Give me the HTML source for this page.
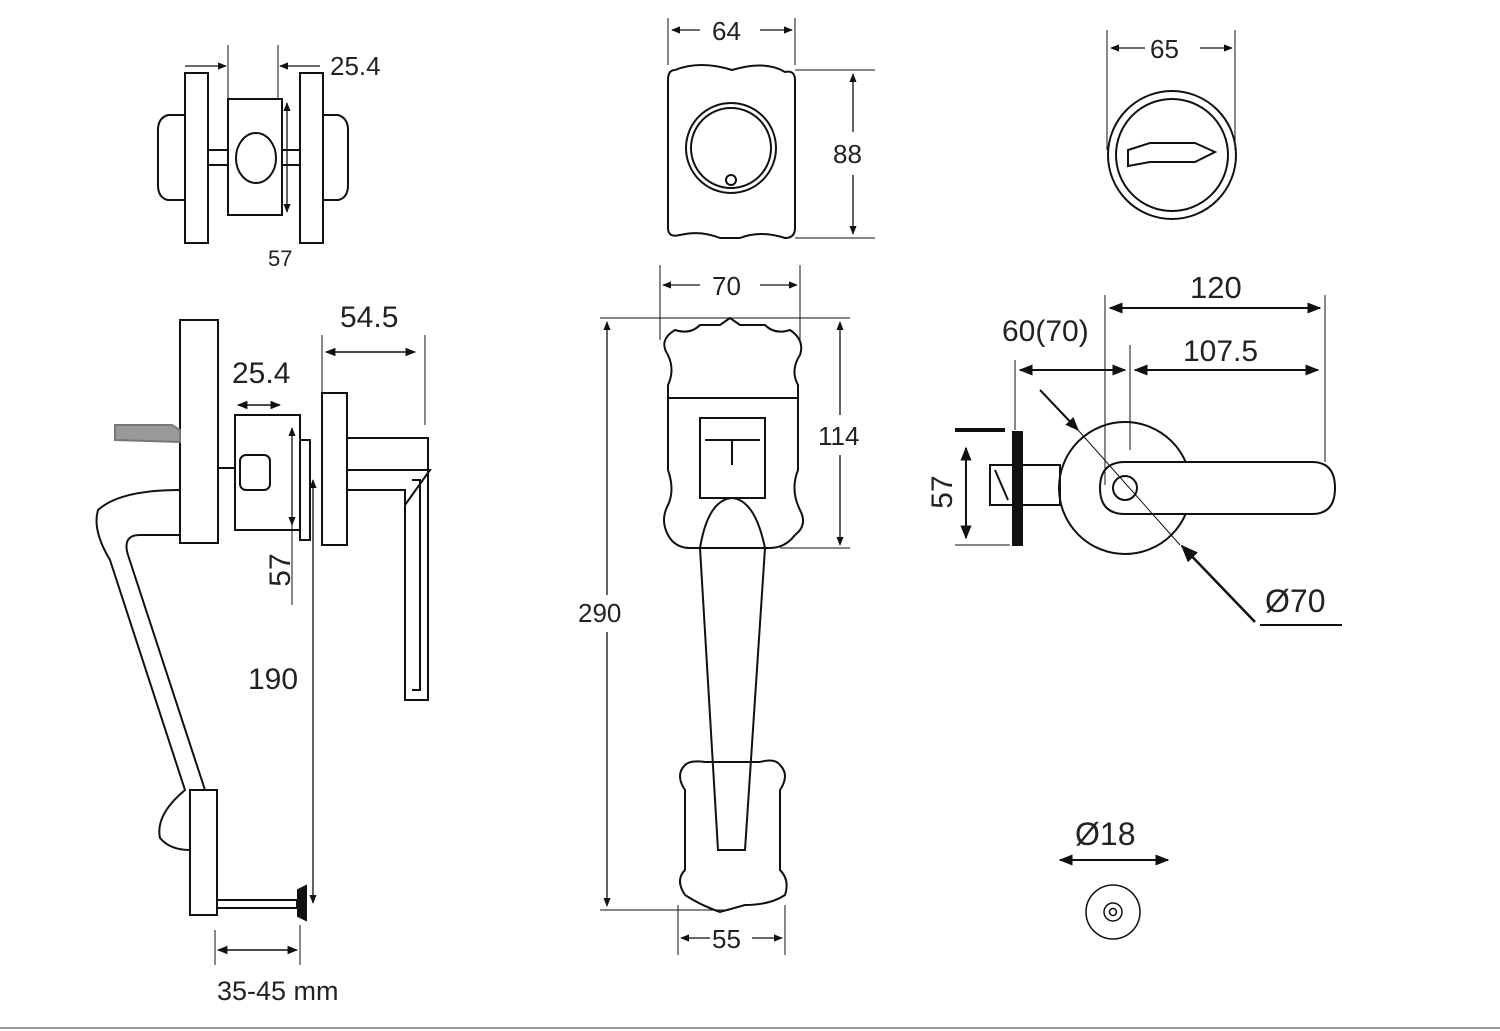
<!DOCTYPE html>
<html><head><meta charset="utf-8"><style>
html,body{margin:0;padding:0;background:#fff;}
svg{display:block;}
text{font-family:"Liberation Sans",sans-serif;fill:#222;}
</style></head><body>
<svg width="1500" height="1031" viewBox="0 0 1500 1031" xmlns="http://www.w3.org/2000/svg">
<defs>
<marker id="a" viewBox="0 0 10 10" refX="9" refY="5" markerWidth="7" markerHeight="7" orient="auto-start-reverse"><path d="M0,1 L10,5 L0,9 z" fill="#111"/></marker>
</defs>
<rect width="1500" height="1031" fill="#fff"/>
<g fill="none" stroke="#111" stroke-width="2">
<path d="M185,115 L168,115 Q158,118 158,130 L158,185 Q158,198 168,200 L185,200"/>
<rect x="185" y="73" width="23" height="170"/>
<rect x="228" y="99" width="54" height="116"/>
<ellipse cx="256" cy="158" rx="20" ry="25"/>
<line x1="208" y1="150" x2="228" y2="150"/><line x1="208" y1="165" x2="228" y2="165"/>
<line x1="282" y1="150" x2="300" y2="150"/><line x1="282" y1="165" x2="300" y2="165"/>
<rect x="300" y="73" width="23" height="170"/>
<path d="M323,115 L338,115 Q348,118 348,130 L348,185 Q348,198 338,200 L323,200"/>
<line x1="228" y1="45" x2="228" y2="99" stroke-width="1"/>
<line x1="278" y1="45" x2="278" y2="99" stroke-width="1"/>
<line x1="185" y1="66" x2="226" y2="66" stroke-width="1.3" marker-end="url(#a)"/>
<line x1="320" y1="66" x2="280" y2="66" stroke-width="1.3" marker-end="url(#a)"/>
<line x1="287" y1="103" x2="287" y2="212" stroke-width="1.3" marker-start="url(#a)" marker-end="url(#a)"/>
<rect x="180" y="320" width="38" height="223"/>
<path d="M115,425 L172,425 L180,430 L180,442 L115,440 z" fill="#999" stroke="#777"/>
<rect x="235" y="415" width="65" height="115"/>
<rect x="240" y="455" width="30" height="35" rx="6"/>
<line x1="218" y1="468" x2="235" y2="468"/>
<rect x="300" y="440" width="10" height="100"/>
<rect x="322" y="393" width="25" height="152"/>
<path d="M347,438 L428,438 L428,700 L405,700 L405,490 L347,490"/>
<path d="M347,470 L430,470 L405,505"/>
<path d="M412,480 L420,480 L420,690 L412,690"/>
<path d="M180,490 Q120,490 98,510 Q92,530 110,560 L185,790 Q155,815 160,838 Q170,850 190,850"/>
<path d="M180,535 L140,535 Q122,535 128,555 L205,790"/>
<rect x="190" y="790" width="27" height="125"/>
<rect x="217" y="900" width="80" height="8"/>
<path d="M298,890 L306,886 L306,920 L298,916 z" fill="#111"/>
<line x1="322" y1="335" x2="322" y2="392" stroke-width="1"/>
<line x1="425" y1="335" x2="425" y2="425" stroke-width="1"/>
<line x1="326" y1="352" x2="415" y2="352" stroke-width="1.5" marker-start="url(#a)" marker-end="url(#a)"/>
<line x1="238" y1="405" x2="280" y2="405" stroke-width="1.5" marker-start="url(#a)" marker-end="url(#a)"/>
<line x1="292" y1="428" x2="292" y2="525" stroke-width="1.3" marker-start="url(#a)" marker-end="url(#a)"/>
<line x1="292" y1="525" x2="292" y2="605" stroke-width="1"/>
<line x1="313" y1="480" x2="313" y2="903" stroke-width="1.3" marker-start="url(#a)" marker-end="url(#a)"/>
<line x1="215" y1="930" x2="215" y2="965" stroke-width="1"/>
<line x1="300" y1="925" x2="300" y2="965" stroke-width="1"/>
<line x1="218" y1="950" x2="297" y2="950" stroke-width="1.5" marker-start="url(#a)" marker-end="url(#a)"/>
<path d="M675,70 Q668,70 668,80 L668,228 Q668,238 680,235 Q700,230 720,238 L740,238 Q760,230 785,238 Q795,238 795,228 L795,80 Q795,70 785,72 Q765,60 732,70 Q700,60 675,70 z"/>
<circle cx="731" cy="148" r="45"/><circle cx="731" cy="148" r="40"/>
<circle cx="731" cy="180" r="5"/>
<line x1="668" y1="18" x2="668" y2="65" stroke-width="1"/>
<line x1="795" y1="18" x2="795" y2="65" stroke-width="1"/>
<line x1="672" y1="30" x2="700" y2="30" stroke-width="1.3" marker-start="url(#a)"/>
<line x1="760" y1="30" x2="792" y2="30" stroke-width="1.3" marker-end="url(#a)"/>
<line x1="795" y1="70" x2="875" y2="70" stroke-width="1"/>
<line x1="795" y1="238" x2="875" y2="238" stroke-width="1"/>
<line x1="853" y1="74" x2="853" y2="132" stroke-width="1.3" marker-start="url(#a)"/>
<line x1="853" y1="175" x2="853" y2="234" stroke-width="1.3" marker-end="url(#a)"/>
<path d="M675,330 Q690,335 700,325 L720,325 L730,318 L740,325 L765,325 Q775,335 790,330 Q805,340 800,355 Q790,370 798,385 L798,470 Q790,490 800,510 Q808,525 795,535 Q785,548 770,548 L690,548 Q675,548 668,535 Q660,520 668,505 Q675,490 668,470 L668,385 Q675,370 668,355 Q658,340 675,330 z"/>
<line x1="668" y1="398" x2="798" y2="398"/>
<rect x="700" y="418" width="65" height="80"/>
<line x1="705" y1="440" x2="760" y2="440"/><line x1="732" y1="440" x2="732" y2="465"/>
<path d="M700,548 L718,850 L745,850 L765,548 Q755,500 732,498 Q708,500 700,548 z"/>
<path d="M685,765 Q690,760 705,762 L760,762 Q775,758 780,765 Q790,775 780,790 L780,870 Q790,880 785,895 Q770,905 745,905 L720,912 Q700,905 685,895 Q675,880 685,870 L685,790 Q675,775 685,765 z"/>
<line x1="660" y1="265" x2="660" y2="340" stroke-width="1"/>
<line x1="800" y1="265" x2="800" y2="340" stroke-width="1"/>
<line x1="663" y1="285" x2="700" y2="285" stroke-width="1.3" marker-start="url(#a)"/>
<line x1="760" y1="285" x2="797" y2="285" stroke-width="1.3" marker-end="url(#a)"/>
<line x1="600" y1="318" x2="850" y2="318" stroke-width="1"/>
<line x1="600" y1="910" x2="730" y2="910" stroke-width="1"/>
<line x1="607" y1="322" x2="607" y2="595" stroke-width="1.3" marker-start="url(#a)"/>
<line x1="607" y1="632" x2="607" y2="906" stroke-width="1.3" marker-end="url(#a)"/>
<line x1="780" y1="548" x2="850" y2="548" stroke-width="1"/>
<line x1="840" y1="322" x2="840" y2="415" stroke-width="1.3" marker-start="url(#a)"/>
<line x1="840" y1="455" x2="840" y2="545" stroke-width="1.3" marker-end="url(#a)"/>
<line x1="678" y1="905" x2="678" y2="955" stroke-width="1"/>
<line x1="785" y1="905" x2="785" y2="955" stroke-width="1"/>
<line x1="681" y1="938" x2="710" y2="938" stroke-width="1.3" marker-start="url(#a)"/>
<line x1="752" y1="938" x2="782" y2="938" stroke-width="1.3" marker-end="url(#a)"/>
<circle cx="1172" cy="155" r="64"/><circle cx="1172" cy="155" r="56"/>
<path d="M1128,150 L1150,143 L1195,143 L1215,152 L1195,162 L1150,162 L1128,166 z"/>
<line x1="1107" y1="30" x2="1107" y2="150" stroke-width="1"/>
<line x1="1235" y1="30" x2="1235" y2="150" stroke-width="1"/>
<line x1="1111" y1="48" x2="1145" y2="48" stroke-width="1.3" marker-start="url(#a)"/>
<line x1="1200" y1="48" x2="1232" y2="48" stroke-width="1.3" marker-end="url(#a)"/>
<circle cx="1125" cy="488" r="66"/>
<path d="M1125,462 L1312,462 Q1335,462 1335,488 Q1335,514 1312,514 L1125,514 Q1100,514 1100,488 Q1100,462 1125,462 z" fill="#fff"/>
<circle cx="1125" cy="488" r="12"/>
<rect x="1013" y="432" width="9" height="113" fill="#111"/>
<rect x="1022" y="465" width="38" height="40"/>
<rect x="990" y="465" width="23" height="40"/>
<line x1="995" y1="470" x2="1008" y2="500"/>
<line x1="955" y1="430" x2="1005" y2="430" stroke-width="4"/>
<line x1="955" y1="545" x2="1010" y2="545" stroke-width="1"/>
<line x1="966" y1="448" x2="966" y2="538" stroke-width="2" marker-start="url(#a)" marker-end="url(#a)"/>
<line x1="1105" y1="295" x2="1105" y2="485" stroke-width="1"/>
<line x1="1325" y1="295" x2="1325" y2="462" stroke-width="1"/>
<line x1="1130" y1="345" x2="1130" y2="450" stroke-width="1"/>
<line x1="1015" y1="360" x2="1015" y2="430" stroke-width="1"/>
<line x1="1110" y1="308" x2="1320" y2="308" stroke-width="2" marker-start="url(#a)" marker-end="url(#a)"/>
<line x1="1135" y1="370" x2="1318" y2="370" stroke-width="2" marker-start="url(#a)" marker-end="url(#a)"/>
<line x1="1020" y1="370" x2="1125" y2="370" stroke-width="2" marker-start="url(#a)" marker-end="url(#a)"/>
<line x1="1040" y1="390" x2="1078" y2="430" stroke-width="2" marker-end="url(#a)"/>
<line x1="1078" y1="430" x2="1180" y2="545" stroke-width="1"/>
<line x1="1255" y1="622" x2="1182" y2="546" stroke-width="2.5" marker-end="url(#a)"/>
<line x1="1260" y1="625" x2="1342" y2="625" stroke-width="2"/>
<line x1="1060" y1="860" x2="1168" y2="860" stroke-width="2" marker-start="url(#a)" marker-end="url(#a)"/>
<circle cx="1113" cy="912" r="27" stroke-width="1.5"/>
<circle cx="1113" cy="912" r="9" stroke-width="1.5"/>
<circle cx="1113" cy="912" r="3.5" stroke-width="1.5"/>
</g>
<line x1="0" y1="1028" x2="1500" y2="1028" stroke="#999" stroke-width="2"/>
<g font-size="26">
<text x="330" y="75">25.4</text>
<text x="268" y="266" font-size="22">57</text>
<text x="340" y="327" font-size="30">54.5</text>
<text x="232" y="383" font-size="30">25.4</text>
<text font-size="30" text-anchor="middle" transform="translate(290,570) rotate(-90)">57</text>
<text x="248" y="689" font-size="30">190</text>
<text x="217" y="1000" font-size="27">35-45 mm</text>
<text x="712" y="40">64</text>
<text x="833" y="163">88</text>
<text x="712" y="295">70</text>
<text x="578" y="622">290</text>
<text x="818" y="445">114</text>
<text x="712" y="948">55</text>
<text x="1150" y="58">65</text>
<text x="1190" y="298" font-size="31">120</text>
<text x="1183" y="361" font-size="30">107.5</text>
<text x="1002" y="341" font-size="30">60(70)</text>
<text font-size="30" text-anchor="middle" transform="translate(952,492) rotate(-90)">57</text>
<text x="1265" y="612" font-size="32">Ø70</text>
<text x="1075" y="845" font-size="32">Ø18</text>
</g>
</svg>
</body></html>
